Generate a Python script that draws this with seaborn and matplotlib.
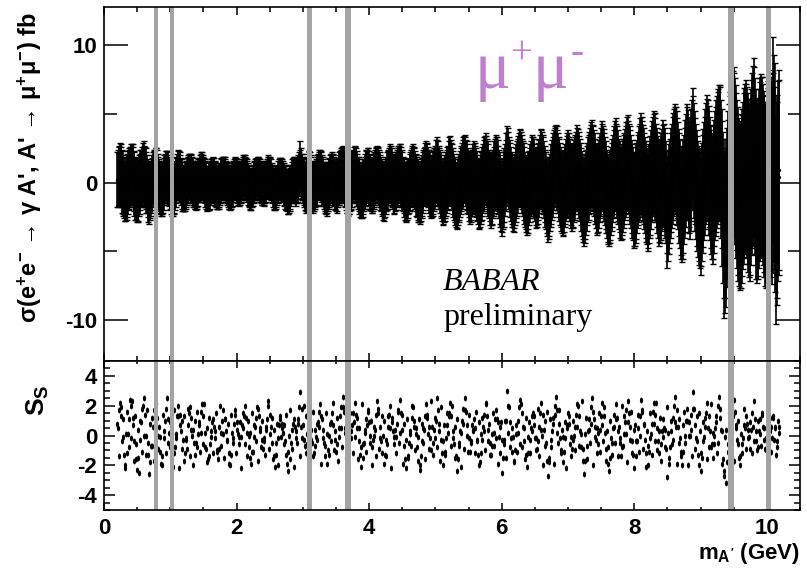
import matplotlib
matplotlib.use("Agg")
import matplotlib.pyplot as plt
import numpy as np
import pandas as pd
import seaborn as sns
from matplotlib.ticker import MultipleLocator

# ---------------------------------------------------------------------------
# Scan data: A' mass hypotheses (GeV), fitted cross section (fb) with its
# uncertainty, and the signal significance S_S at each mass point.
# ---------------------------------------------------------------------------
mass = [
    0.20, 0.22, 0.24, 0.26, 0.28, 0.30, 0.32, 0.34, 0.36, 0.38, 0.40, 0.42, 0.44, 0.46, 0.48, 0.50, 0.52, 0.54, 0.56, 0.58, 0.60, 0.62, 0.64, 0.66, 0.68,
    0.70, 0.72, 0.74, 0.76, 0.78, 0.80, 0.82, 0.84, 0.86, 0.88, 0.90, 0.92, 0.94, 0.96, 0.98, 1.00, 1.02, 1.04, 1.06, 1.08, 1.10, 1.12, 1.14, 1.16, 1.18,
    1.20, 1.22, 1.24, 1.26, 1.28, 1.30, 1.32, 1.34, 1.36, 1.38, 1.40, 1.42, 1.44, 1.46, 1.48, 1.50, 1.52, 1.54, 1.56, 1.58, 1.60, 1.62, 1.64, 1.66, 1.68,
    1.70, 1.72, 1.74, 1.76, 1.78, 1.80, 1.82, 1.84, 1.86, 1.88, 1.90, 1.92, 1.94, 1.96, 1.98, 2.00, 2.02, 2.04, 2.06, 2.08, 2.10, 2.12, 2.14, 2.16, 2.18,
    2.20, 2.22, 2.24, 2.26, 2.28, 2.30, 2.32, 2.34, 2.36, 2.38, 2.40, 2.42, 2.44, 2.46, 2.48, 2.50, 2.52, 2.54, 2.56, 2.58, 2.60, 2.62, 2.64, 2.66, 2.68,
    2.70, 2.72, 2.74, 2.76, 2.78, 2.80, 2.82, 2.84, 2.86, 2.88, 2.90, 2.92, 2.94, 2.96, 2.98, 3.00, 3.02, 3.04, 3.06, 3.08, 3.10, 3.12, 3.14, 3.16, 3.18,
    3.20, 3.22, 3.24, 3.26, 3.28, 3.30, 3.32, 3.34, 3.36, 3.38, 3.40, 3.42, 3.44, 3.46, 3.48, 3.50, 3.52, 3.54, 3.56, 3.58, 3.60, 3.62, 3.64, 3.66, 3.68,
    3.70, 3.72, 3.74, 3.76, 3.78, 3.80, 3.82, 3.84, 3.86, 3.88, 3.90, 3.92, 3.94, 3.96, 3.98, 4.00, 4.02, 4.04, 4.06, 4.08, 4.10, 4.12, 4.14, 4.16, 4.18,
    4.20, 4.22, 4.24, 4.26, 4.28, 4.30, 4.32, 4.34, 4.36, 4.38, 4.40, 4.42, 4.44, 4.46, 4.48, 4.50, 4.52, 4.54, 4.56, 4.58, 4.60, 4.62, 4.64, 4.66, 4.68,
    4.70, 4.72, 4.74, 4.76, 4.78, 4.80, 4.82, 4.84, 4.86, 4.88, 4.90, 4.92, 4.94, 4.96, 4.98, 5.00, 5.02, 5.04, 5.06, 5.08, 5.10, 5.12, 5.14, 5.16, 5.18,
    5.20, 5.22, 5.24, 5.26, 5.28, 5.30, 5.32, 5.34, 5.36, 5.38, 5.40, 5.42, 5.44, 5.46, 5.48, 5.50, 5.52, 5.54, 5.56, 5.58, 5.60, 5.62, 5.64, 5.66, 5.68,
    5.70, 5.72, 5.74, 5.76, 5.78, 5.80, 5.82, 5.84, 5.86, 5.88, 5.90, 5.92, 5.94, 5.96, 5.98, 6.00, 6.02, 6.04, 6.06, 6.08, 6.10, 6.12, 6.14, 6.16, 6.18,
    6.20, 6.22, 6.24, 6.26, 6.28, 6.30, 6.32, 6.34, 6.36, 6.38, 6.40, 6.42, 6.44, 6.46, 6.48, 6.50, 6.52, 6.54, 6.56, 6.58, 6.60, 6.62, 6.64, 6.66, 6.68,
    6.70, 6.72, 6.74, 6.76, 6.78, 6.80, 6.82, 6.84, 6.86, 6.88, 6.90, 6.92, 6.94, 6.96, 6.98, 7.00, 7.02, 7.04, 7.06, 7.08, 7.10, 7.12, 7.14, 7.16, 7.18,
    7.20, 7.22, 7.24, 7.26, 7.28, 7.30, 7.32, 7.34, 7.36, 7.38, 7.40, 7.42, 7.44, 7.46, 7.48, 7.50, 7.52, 7.54, 7.56, 7.58, 7.60, 7.62, 7.64, 7.66, 7.68,
    7.70, 7.72, 7.74, 7.76, 7.78, 7.80, 7.82, 7.84, 7.86, 7.88, 7.90, 7.92, 7.94, 7.96, 7.98, 8.00, 8.02, 8.04, 8.06, 8.08, 8.10, 8.12, 8.14, 8.16, 8.18,
    8.20, 8.22, 8.24, 8.26, 8.28, 8.30, 8.32, 8.34, 8.36, 8.38, 8.40, 8.42, 8.44, 8.46, 8.48, 8.50, 8.52, 8.54, 8.56, 8.58, 8.60, 8.62, 8.64, 8.66, 8.68,
    8.70, 8.72, 8.74, 8.76, 8.78, 8.80, 8.82, 8.84, 8.86, 8.88, 8.90, 8.92, 8.94, 8.96, 8.98, 9.00, 9.02, 9.04, 9.06, 9.08, 9.10, 9.12, 9.14, 9.16, 9.18,
    9.20, 9.22, 9.24, 9.26, 9.28, 9.30, 9.32, 9.34, 9.36, 9.38, 9.40, 9.42, 9.44, 9.46, 9.48, 9.50, 9.52, 9.54, 9.56, 9.58, 9.60, 9.62, 9.64, 9.66, 9.68,
    9.70, 9.72, 9.74, 9.76, 9.78, 9.80, 9.82, 9.84, 9.86, 9.88, 9.90, 9.92, 9.94, 9.96, 9.98, 10.00, 10.02, 10.04, 10.06, 10.08, 10.10, 10.12, 10.14, 10.16, 10.18,
]

xsec = [
    0.2, 0.5, 0.7, 0.4, 0.0, -0.4, -0.6, -0.4, 0.0, 0.3, 0.6, 0.7, 0.4, -0.1, -0.5, -0.7, -0.5, -0.1, 0.3, 0.5, 0.8, 0.4, 0.0, -0.4, -0.8,
    -0.5, -0.2, 0.2, 0.5, 0.6, 0.4, 0.0, -0.3, -0.6, -0.4, -0.1, 0.3, 0.5, 0.3, 0.1, -0.2, -0.5, -0.6, -0.4, 0.0, 0.4, 0.6, 0.4, 0.1, -0.3,
    -0.4, -0.3, -0.1, 0.2, 0.4, 0.5, 0.3, 0.1, -0.1, -0.3, -0.2, 0.0, 0.2, 0.4, 0.5, 0.3, 0.1, -0.2, -0.5, -0.4, -0.2, 0.1, 0.3, 0.2, -0.1,
    -0.3, -0.4, -0.2, 0.1, 0.3, 0.4, 0.3, 0.1, -0.1, -0.3, -0.5, -0.3, -0.1, 0.2, 0.4, 0.2, 0.0, -0.2, 0.0, 0.2, 0.4, 0.5, 0.3, 0.1, -0.2,
    -0.4, -0.5, -0.3, 0.0, 0.2, 0.3, 0.5, 0.3, 0.1, -0.1, -0.2, -0.1, 0.1, 0.3, 0.5, 0.4, 0.2, -0.1, -0.4, -0.5, -0.3, -0.1, 0.2, 0.3, 0.2,
    0.1, -0.2, -0.4, -0.6, -0.7, -0.5, -0.2, 0.1, 0.3, 0.2, -0.1, 0.2, 0.6, 1.3, 0.5, 0.2, -0.1, -0.4, -0.2, 0.1, 0.3, 0.1, -0.2, -0.4, -0.2,
    0.0, 0.2, 0.5, 0.6, 0.4, 0.1, -0.2, -0.4, -0.6, -0.3, 0.0, 0.3, 0.5, 0.2, -0.1, -0.3, -0.2, 0.2, 0.4, 0.6, 0.8, 0.5, 0.2, -0.2, -0.5,
    -0.4, -0.1, 0.2, 0.5, 0.8, 0.5, 0.2, -0.1, -0.5, -0.7, -0.5, -0.2, 0.1, 0.4, 0.6, 0.3, 0.0, -0.3, -0.1, 0.2, 0.5, 0.8, 0.5, 0.2, -0.1,
    -0.4, -0.7, -0.5, -0.1, 0.2, 0.5, 0.7, 0.4, 0.1, -0.2, 0.0, 0.3, 0.6, 0.8, 0.5, 0.1, -0.2, -0.6, -0.8, -0.5, -0.2, 0.1, 0.4, 0.7, 0.4,
    0.0, -0.3, -0.7, -0.9, -0.6, -0.2, 0.2, 0.5, 0.8, 0.6, 0.2, -0.1, -0.4, -0.2, 0.2, 0.5, 1.0, 0.7, 0.3, -0.1, -0.5, -0.8, -0.5, -0.1, 0.3,
    0.7, 1.0, 0.6, 0.1, -0.3, -0.7, -1.1, -0.7, -0.3, 0.1, 0.5, 0.8, 1.1, 0.7, 0.3, -0.1, -0.5, -0.2, 0.1, 0.5, 0.2, -0.2, -0.6, -0.9, -0.5,
    -0.2, 0.3, 0.7, 1.1, 0.7, 0.2, -0.3, -0.7, -0.4, 0.1, 0.6, 0.9, 0.5, -0.1, -0.6, -1.3, -0.8, -0.2, 0.5, 1.5, 1.0, 0.5, -0.1, -0.6, -0.9,
    -0.5, 0.1, 0.5, 1.0, 1.2, 0.8, 0.3, -0.2, -0.7, -1.1, -0.6, -0.2, 0.3, 0.7, 0.4, -0.1, -0.5, -0.2, 0.3, 0.8, 1.1, 0.7, 0.2, -0.4, -0.9,
    -1.5, -1.0, -0.4, 0.2, 0.7, 1.1, 1.4, 0.9, 0.4, -0.1, -0.6, -1.0, -0.6, -0.1, 0.4, 0.8, 0.4, -0.1, -0.5, -0.2, 0.3, 0.8, 1.2, 0.7, 0.2,
    -0.5, -1.0, -1.6, -1.0, -0.4, 0.2, 0.7, 1.1, 1.5, 1.0, 0.4, -0.2, -0.7, -0.4, 0.2, 0.8, 1.3, 0.8, 0.1, -0.5, -1.1, -1.4, -0.9, -0.3, 0.3,
    0.9, 1.4, 0.8, 0.2, -0.3, -0.9, -0.5, 0.1, 0.6, 1.1, 1.5, 1.0, 0.4, -0.3, -0.8, -1.4, -0.9, -0.3, 0.3, 0.8, 1.6, 1.0, 0.5, -0.2, -0.8,
    -1.5, -0.8, -0.2, 0.6, 1.2, 1.6, 1.0, 0.4, -0.3, -0.9, -0.5, 0.2, 0.8, 0.3, -0.7, -2.4, -1.4, -0.6, 0.2, 0.9, 1.5, 1.9, 1.3, 0.5, -0.4,
    -1.3, -1.8, -1.0, 0.0, 0.9, 1.6, 0.8, 0.0, 1.3, 2.9, 1.6, 0.6, -0.4, -1.2, -1.8, -2.5, -1.4, -0.4, 0.5, 1.4, 2.0, 1.2, 0.3, -0.7, -1.4,
    -0.5, 0.5, 1.2, 1.8, 2.2, 2.2, 0.3, -1.8, -3.9, -3.3, -1.8, -0.6, 0.4, 1.0, 1.8, 2.4, 1.6, 0.5, -0.6, -1.4, -1.7, -1.2, -0.2, 0.7, 1.3,
    0.8, -0.2, -0.9, 0.4, 1.6, 2.6, 1.2, -0.5, -0.6, 0.3, 1.1, 1.2, 0.6, -0.3, -1.0, -0.4, 0.5, 1.2, 0.6, -0.2, 3.1, 1.2, -2.8, -1.0, 0.9,
]

xsec_err = [
    2.0, 2.1, 2.2, 2.2, 2.3, 2.2, 2.2, 2.3, 2.3, 2.2, 2.2, 2.1, 2.2, 2.3, 2.2, 2.2, 2.3, 2.2, 2.1, 2.1, 2.2, 2.2, 2.2, 2.1, 2.2,
    2.1, 2.0, 2.0, 1.9, 1.9, 2.0, 1.9, 1.9, 1.8, 1.9, 1.9, 1.8, 1.8, 1.9, 1.8, 1.8, 1.9, 1.8, 1.8, 1.8, 1.7, 1.8, 1.8, 1.7, 1.8,
    1.7, 1.8, 1.7, 1.7, 1.7, 1.6, 1.7, 1.7, 1.7, 1.6, 1.7, 1.7, 1.6, 1.7, 1.7, 1.6, 1.6, 1.7, 1.6, 1.6, 1.7, 1.6, 1.6, 1.6, 1.6,
    1.6, 1.5, 1.6, 1.6, 1.5, 1.5, 1.6, 1.5, 1.5, 1.6, 1.5, 1.5, 1.6, 1.5, 1.5, 1.5, 1.6, 1.5, 1.5, 1.5, 1.6, 1.5, 1.5, 1.5, 1.5,
    1.5, 1.5, 1.4, 1.5, 1.5, 1.5, 1.4, 1.5, 1.5, 1.5, 1.4, 1.5, 1.5, 1.4, 1.5, 1.5, 1.5, 1.4, 1.5, 1.5, 1.5, 1.4, 1.5, 1.5, 1.5,
    1.5, 1.5, 1.6, 1.5, 1.6, 1.6, 1.5, 1.6, 1.6, 1.6, 1.6, 1.6, 1.6, 1.7, 1.6, 1.7, 1.7, 1.8, 1.9, 2.0, 2.0, 1.9, 1.8, 1.8, 1.7,
    1.7, 1.8, 1.7, 1.8, 1.8, 1.8, 1.7, 1.8, 1.8, 1.8, 1.8, 1.8, 1.7, 1.8, 1.8, 1.8, 1.9, 1.8, 1.9, 1.9, 1.9, 2.0, 2.0, 2.0, 1.9,
    1.9, 1.9, 2.0, 1.9, 1.9, 2.0, 1.9, 2.0, 2.0, 1.9, 2.0, 1.9, 2.0, 2.0, 1.9, 2.0, 2.0, 1.9, 2.0, 2.0, 2.0, 1.9, 2.0, 2.0, 2.0,
    2.0, 2.1, 2.0, 2.0, 2.1, 2.0, 2.1, 2.1, 2.0, 2.1, 2.0, 2.1, 2.1, 2.0, 2.1, 2.1, 2.0, 2.1, 2.1, 2.1, 2.0, 2.1, 2.1, 2.1, 2.1,
    2.1, 2.2, 2.2, 2.1, 2.2, 2.2, 2.2, 2.1, 2.2, 2.2, 2.2, 2.3, 2.2, 2.2, 2.3, 2.2, 2.3, 2.3, 2.2, 2.3, 2.3, 2.3, 2.3, 2.3, 2.3,
    2.3, 2.4, 2.3, 2.4, 2.4, 2.4, 2.3, 2.4, 2.4, 2.4, 2.4, 2.5, 2.4, 2.4, 2.5, 2.4, 2.5, 2.5, 2.4, 2.5, 2.5, 2.5, 2.4, 2.5, 2.5,
    2.5, 2.5, 2.6, 2.5, 2.5, 2.6, 2.5, 2.6, 2.6, 2.5, 2.6, 2.6, 2.6, 2.5, 2.6, 2.6, 2.6, 2.7, 2.6, 2.6, 2.7, 2.6, 2.7, 2.6, 2.7,
    2.6, 2.7, 2.7, 2.6, 2.7, 2.7, 2.7, 2.8, 2.7, 2.7, 2.8, 2.7, 2.7, 2.8, 2.8, 2.7, 2.8, 2.8, 2.8, 2.7, 2.8, 2.8, 2.8, 2.8, 2.8,
    2.8, 2.9, 2.8, 2.9, 2.9, 2.9, 2.8, 2.9, 2.9, 3.0, 2.9, 2.9, 3.0, 2.9, 3.0, 3.0, 2.9, 3.0, 3.0, 3.0, 3.0, 2.9, 3.0, 3.0, 3.0,
    3.0, 3.1, 3.0, 3.1, 3.1, 3.1, 3.0, 3.1, 3.1, 3.1, 3.2, 3.1, 3.1, 3.2, 3.1, 3.2, 3.2, 3.1, 3.2, 3.2, 3.2, 3.2, 3.3, 3.2, 3.2,
    3.2, 3.3, 3.3, 3.2, 3.3, 3.3, 3.3, 3.4, 3.3, 3.3, 3.4, 3.3, 3.4, 3.4, 3.4, 3.4, 3.5, 3.4, 3.4, 3.5, 3.5, 3.5, 3.5, 3.5, 3.5,
    3.5, 3.6, 3.6, 3.5, 3.6, 3.6, 3.7, 3.6, 3.7, 3.7, 3.7, 3.7, 3.8, 3.7, 3.7, 3.8, 3.8, 3.8, 3.8, 3.9, 3.9, 3.8, 3.9, 3.9, 4.0,
    4.0, 4.0, 4.1, 4.0, 4.1, 4.1, 4.0, 4.1, 4.1, 4.0, 4.2, 4.1, 4.2, 4.2, 4.2, 4.2, 4.3, 4.3, 4.3, 4.4, 4.4, 4.4, 4.5, 4.5, 4.5,
    4.6, 4.7, 4.8, 4.8, 4.9, 4.9, 5.1, 5.5, 6.0, 5.8, 5.8, 5.8, 5.9, 5.9, 6.0, 6.0, 6.0, 6.0, 6.1, 6.1, 6.0, 6.1, 6.1, 6.2, 6.2,
    6.2, 6.3, 6.3, 6.4, 6.4, 6.5, 6.4, 6.5, 6.4, 6.5, 6.5, 6.5, 6.6, 6.6, 6.7, 6.8, 6.9, 7.0, 7.1, 7.2, 7.5, 7.5, 7.5, 7.4, 7.3,
]

significance = [
    0.8, 1.7, 2.2, 1.3, -0.1, -1.3, -2.0, -1.2, 0.1, 1.1, 2.0, 2.3, 1.2, -0.4, -1.6, -2.3, -1.5, -0.3, 0.9, 1.8, 2.5, 1.4, 0.0, -1.3, -2.6,
    -1.8, -0.7, 0.6, 1.7, 2.1, 1.2, 0.0, -1.1, -1.9, -1.4, -0.2, 1.0, 1.8, 1.1, 0.2, -0.8, -1.6, -2.1, -1.2, 0.1, 1.3, 2.0, 1.4, 0.3, -0.9,
    -1.7, -1.2, -0.3, 0.7, 1.5, 1.9, 1.2, 0.4, -0.5, -1.3, -0.8, 0.1, 0.9, 1.6, 2.1, 1.3, 0.2, -0.9, -1.8, -1.4, -0.6, 0.3, 1.1, 0.6, -0.2,
    -1.1, -1.6, -0.9, 0.2, 1.0, 1.7, 1.1, 0.3, -0.4, -1.2, -2.0, -1.3, -0.2, 0.8, 1.4, 0.9, 0.1, -0.6, -0.1, 0.7, 1.5, 2.0, 1.2, 0.2, -0.8,
    -1.5, -1.9, -1.1, -0.1, 0.6, 1.2, 1.8, 1.3, 0.5, -0.3, -0.9, -0.4, 0.4, 1.1, 2.0, 1.4, 0.6, -0.5, -1.4, -2.1, -1.3, -0.2, 0.7, 1.3, 0.8,
    0.2, -0.6, -1.3, -1.9, -2.4, -1.6, -0.5, 0.4, 1.1, 0.6, -0.2, 0.8, 1.9, 2.9, 1.8, 0.7, -0.3, -1.2, -0.6, 0.3, 1.0, 0.4, -0.5, -1.4, -0.7,
    -0.1, 0.8, 1.6, 2.1, 1.3, 0.4, -0.5, -1.4, -1.9, -1.0, 0.0, 0.9, 1.5, 0.7, -0.3, -1.1, -0.6, 0.5, 1.3, 1.9, 2.6, 1.6, 0.5, -0.6, -1.5,
    -1.0, -0.2, 0.7, 1.5, 2.2, 1.4, 0.5, -0.4, -1.3, -2.1, -1.5, -0.5, 0.4, 1.1, 1.7, 0.9, 0.0, -0.8, -0.3, 0.6, 1.4, 2.3, 1.5, 0.6, -0.4,
    -1.2, -1.9, -1.3, -0.3, 0.6, 1.4, 2.0, 1.2, 0.3, -0.6, -0.1, 0.8, 1.6, 2.4, 1.5, 0.4, -0.7, -1.6, -2.2, -1.4, -0.5, 0.3, 1.2, 1.9, 1.0,
    0.1, -0.8, -1.7, -2.3, -1.4, -0.4, 0.5, 1.3, 2.1, 1.4, 0.6, -0.2, -1.0, -0.5, 0.4, 1.2, 2.5, 1.7, 0.8, -0.3, -1.2, -2.0, -1.3, -0.2, 0.7,
    1.5, 2.2, 1.3, 0.3, -0.6, -1.5, -2.4, -1.6, -0.7, 0.2, 1.0, 1.8, 2.5, 1.6, 0.7, -0.2, -1.1, -0.5, 0.3, 1.1, 0.5, -0.4, -1.3, -2.0, -1.2,
    -0.3, 0.6, 1.4, 2.1, 1.3, 0.4, -0.5, -1.3, -0.7, 0.2, 1.1, 1.7, 0.9, -0.1, -1.2, -2.5, -1.5, -0.3, 1.0, 3.0, 2.0, 0.9, -0.2, -1.1, -1.8,
    -1.0, 0.1, 1.0, 1.9, 2.4, 1.5, 0.6, -0.4, -1.3, -2.1, -1.2, -0.3, 0.5, 1.3, 0.7, -0.2, -1.0, -0.4, 0.6, 1.5, 2.2, 1.4, 0.4, -0.7, -1.7,
    -2.7, -1.8, -0.8, 0.3, 1.2, 2.0, 2.6, 1.7, 0.8, -0.2, -1.0, -1.8, -1.1, -0.2, 0.7, 1.5, 0.8, -0.1, -0.9, -0.3, 0.6, 1.4, 2.1, 1.3, 0.3,
    -0.8, -1.7, -2.6, -1.7, -0.7, 0.3, 1.1, 1.9, 2.5, 1.6, 0.6, -0.3, -1.2, -0.6, 0.4, 1.3, 2.2, 1.3, 0.2, -0.9, -1.9, -2.4, -1.5, -0.5, 0.5,
    1.4, 2.1, 1.2, 0.3, -0.5, -1.4, -0.8, 0.1, 0.9, 1.7, 2.3, 1.5, 0.6, -0.4, -1.3, -2.2, -1.4, -0.4, 0.5, 1.3, 2.4, 1.6, 0.7, -0.3, -1.2,
    -2.0, -1.1, -0.2, 0.8, 1.6, 2.2, 1.4, 0.5, -0.4, -1.2, -0.6, 0.3, 1.1, 0.4, -0.9, -2.8, -1.9, -0.8, 0.3, 1.2, 2.0, 2.6, 1.7, 0.6, -0.5,
    -1.4, -2.0, -1.1, 0.0, 1.0, 1.8, 0.9, 0.0, 1.4, 2.9, 1.8, 0.7, -0.4, -1.3, -2.0, -2.4, -1.5, -0.4, 0.6, 1.5, 2.2, 1.3, 0.3, -0.8, -1.5,
    -0.6, 0.5, 1.3, 2.0, 2.6, 1.8, 0.3, -1.6, -2.7, -3.2, -1.8, -0.6, 0.4, 1.0, 1.8, 2.4, 1.6, 0.5, -0.6, -1.5, -2.0, -1.2, -0.2, 0.7, 1.3,
    0.8, -0.2, -0.9, 0.4, 1.5, 2.3, 1.1, -0.4, -0.8, 0.3, 1.1, 1.4, 0.6, -0.3, -1.0, -0.4, 0.5, 1.2, 0.6, -0.2, 1.3, 0.5, -1.3, -0.4, 0.6,
]

# Scan points lying half a step between the ones above
mass_mid = [
    0.21, 0.23, 0.25, 0.27, 0.29, 0.31, 0.33, 0.35, 0.37, 0.39, 0.41, 0.43, 0.45, 0.47, 0.49, 0.51, 0.53, 0.55, 0.57, 0.59, 0.61, 0.63, 0.65, 0.67, 0.69,
    0.71, 0.73, 0.75, 0.77, 0.79, 0.81, 0.83, 0.85, 0.87, 0.89, 0.91, 0.93, 0.95, 0.97, 0.99, 1.01, 1.03, 1.05, 1.07, 1.09, 1.11, 1.13, 1.15, 1.17, 1.19,
    1.21, 1.23, 1.25, 1.27, 1.29, 1.31, 1.33, 1.35, 1.37, 1.39, 1.41, 1.43, 1.45, 1.47, 1.49, 1.51, 1.53, 1.55, 1.57, 1.59, 1.61, 1.63, 1.65, 1.67, 1.69,
    1.71, 1.73, 1.75, 1.77, 1.79, 1.81, 1.83, 1.85, 1.87, 1.89, 1.91, 1.93, 1.95, 1.97, 1.99, 2.01, 2.03, 2.05, 2.07, 2.09, 2.11, 2.13, 2.15, 2.17, 2.19,
    2.21, 2.23, 2.25, 2.27, 2.29, 2.31, 2.33, 2.35, 2.37, 2.39, 2.41, 2.43, 2.45, 2.47, 2.49, 2.51, 2.53, 2.55, 2.57, 2.59, 2.61, 2.63, 2.65, 2.67, 2.69,
    2.71, 2.73, 2.75, 2.77, 2.79, 2.81, 2.83, 2.85, 2.87, 2.89, 2.91, 2.93, 2.95, 2.97, 2.99, 3.01, 3.03, 3.05, 3.07, 3.09, 3.11, 3.13, 3.15, 3.17, 3.19,
    3.21, 3.23, 3.25, 3.27, 3.29, 3.31, 3.33, 3.35, 3.37, 3.39, 3.41, 3.43, 3.45, 3.47, 3.49, 3.51, 3.53, 3.55, 3.57, 3.59, 3.61, 3.63, 3.65, 3.67, 3.69,
    3.71, 3.73, 3.75, 3.77, 3.79, 3.81, 3.83, 3.85, 3.87, 3.89, 3.91, 3.93, 3.95, 3.97, 3.99, 4.01, 4.03, 4.05, 4.07, 4.09, 4.11, 4.13, 4.15, 4.17, 4.19,
    4.21, 4.23, 4.25, 4.27, 4.29, 4.31, 4.33, 4.35, 4.37, 4.39, 4.41, 4.43, 4.45, 4.47, 4.49, 4.51, 4.53, 4.55, 4.57, 4.59, 4.61, 4.63, 4.65, 4.67, 4.69,
    4.71, 4.73, 4.75, 4.77, 4.79, 4.81, 4.83, 4.85, 4.87, 4.89, 4.91, 4.93, 4.95, 4.97, 4.99, 5.01, 5.03, 5.05, 5.07, 5.09, 5.11, 5.13, 5.15, 5.17, 5.19,
    5.21, 5.23, 5.25, 5.27, 5.29, 5.31, 5.33, 5.35, 5.37, 5.39, 5.41, 5.43, 5.45, 5.47, 5.49, 5.51, 5.53, 5.55, 5.57, 5.59, 5.61, 5.63, 5.65, 5.67, 5.69,
    5.71, 5.73, 5.75, 5.77, 5.79, 5.81, 5.83, 5.85, 5.87, 5.89, 5.91, 5.93, 5.95, 5.97, 5.99, 6.01, 6.03, 6.05, 6.07, 6.09, 6.11, 6.13, 6.15, 6.17, 6.19,
    6.21, 6.23, 6.25, 6.27, 6.29, 6.31, 6.33, 6.35, 6.37, 6.39, 6.41, 6.43, 6.45, 6.47, 6.49, 6.51, 6.53, 6.55, 6.57, 6.59, 6.61, 6.63, 6.65, 6.67, 6.69,
    6.71, 6.73, 6.75, 6.77, 6.79, 6.81, 6.83, 6.85, 6.87, 6.89, 6.91, 6.93, 6.95, 6.97, 6.99, 7.01, 7.03, 7.05, 7.07, 7.09, 7.11, 7.13, 7.15, 7.17, 7.19,
    7.21, 7.23, 7.25, 7.27, 7.29, 7.31, 7.33, 7.35, 7.37, 7.39, 7.41, 7.43, 7.45, 7.47, 7.49, 7.51, 7.53, 7.55, 7.57, 7.59, 7.61, 7.63, 7.65, 7.67, 7.69,
    7.71, 7.73, 7.75, 7.77, 7.79, 7.81, 7.83, 7.85, 7.87, 7.89, 7.91, 7.93, 7.95, 7.97, 7.99, 8.01, 8.03, 8.05, 8.07, 8.09, 8.11, 8.13, 8.15, 8.17, 8.19,
    8.21, 8.23, 8.25, 8.27, 8.29, 8.31, 8.33, 8.35, 8.37, 8.39, 8.41, 8.43, 8.45, 8.47, 8.49, 8.51, 8.53, 8.55, 8.57, 8.59, 8.61, 8.63, 8.65, 8.67, 8.69,
    8.71, 8.73, 8.75, 8.77, 8.79, 8.81, 8.83, 8.85, 8.87, 8.89, 8.91, 8.93, 8.95, 8.97, 8.99, 9.01, 9.03, 9.05, 9.07, 9.09, 9.11, 9.13, 9.15, 9.17, 9.19,
    9.21, 9.23, 9.25, 9.27, 9.29, 9.31, 9.33, 9.35, 9.37, 9.39, 9.41, 9.43, 9.45, 9.47, 9.49, 9.51, 9.53, 9.55, 9.57, 9.59, 9.61, 9.63, 9.65, 9.67, 9.69,
    9.71, 9.73, 9.75, 9.77, 9.79, 9.81, 9.83, 9.85, 9.87, 9.89, 9.91, 9.93, 9.95, 9.97, 9.99, 10.01, 10.03, 10.05, 10.07, 10.09, 10.11, 10.13, 10.15, 10.17, 10.19,
]

xsec_mid = [
    0.3, 0.5, 0.6, 0.1, -0.2, -0.6, -0.4, -0.2, 0.2, 0.4, 0.5, 0.6, 0.1, -0.4, -0.5, -0.6, -0.2, 0.2, 0.3, 0.7, 0.5, 0.3, -0.1, -0.7, -0.6,
    -0.4, 0.0, 0.4, 0.5, 0.5, 0.2, -0.2, -0.5, -0.5, -0.3, 0.2, 0.5, 0.4, 0.2, -0.1, -0.4, -0.5, -0.5, -0.2, 0.2, 0.5, 0.5, 0.3, -0.1, -0.4,
    -0.4, -0.2, 0.1, 0.3, 0.5, 0.4, 0.2, -0.1, -0.3, -0.3, -0.1, 0.2, 0.3, 0.5, 0.4, 0.2, -0.1, -0.4, -0.4, -0.3, 0.0, 0.2, 0.2, 0.0, -0.2,
    -0.4, -0.3, -0.1, 0.2, 0.4, 0.3, 0.2, 0.0, -0.2, -0.4, -0.4, -0.2, 0.1, 0.3, 0.3, 0.1, -0.1, -0.1, 0.1, 0.3, 0.5, 0.4, 0.2, -0.1, -0.3,
    -0.5, -0.4, -0.2, 0.1, 0.2, 0.4, 0.4, 0.2, 0.0, -0.2, -0.2, 0.0, 0.2, 0.4, 0.4, 0.3, 0.0, -0.3, -0.5, -0.4, -0.2, 0.1, 0.3, 0.3, 0.1,
    -0.1, -0.3, -0.5, -0.7, -0.6, -0.3, 0.0, 0.2, 0.3, 0.1, 0.1, 0.4, 0.7, 0.9, 0.4, 0.1, -0.2, -0.3, 0.0, 0.2, 0.2, 0.0, -0.3, -0.3, -0.1,
    0.1, 0.4, 0.6, 0.5, 0.2, 0.0, -0.3, -0.5, -0.4, -0.1, 0.2, 0.4, 0.3, 0.1, -0.2, -0.3, 0.0, 0.3, 0.5, 0.7, 0.6, 0.3, 0.0, -0.3, -0.4,
    -0.2, 0.1, 0.4, 0.7, 0.6, 0.3, 0.0, -0.3, -0.6, -0.6, -0.3, 0.0, 0.3, 0.5, 0.5, 0.1, -0.2, -0.2, 0.1, 0.4, 0.7, 0.6, 0.4, 0.0, -0.3,
    -0.6, -0.6, -0.3, 0.1, 0.4, 0.6, 0.6, 0.2, -0.1, -0.1, 0.1, 0.4, 0.7, 0.7, 0.3, -0.1, -0.4, -0.7, -0.6, -0.3, 0.0, 0.3, 0.6, 0.5, 0.2,
    -0.2, -0.5, -0.8, -0.7, -0.4, 0.0, 0.4, 0.7, 0.7, 0.4, 0.1, -0.2, -0.3, 0.0, 0.3, 0.8, 0.8, 0.5, 0.1, -0.3, -0.7, -0.6, -0.3, 0.1, 0.4,
    0.9, 0.8, 0.4, -0.1, -0.5, -0.9, -0.9, -0.5, -0.1, 0.3, 0.6, 1.0, 0.9, 0.5, 0.1, -0.3, -0.4, 0.0, 0.3, 0.4, 0.0, -0.4, -0.8, -0.7, -0.3,
    0.1, 0.5, 0.9, 0.9, 0.4, -0.1, -0.5, -0.5, -0.1, 0.4, 0.7, 0.7, 0.2, -0.4, -0.9, -1.0, -0.5, 0.2, 1.0, 1.3, 0.7, 0.2, -0.4, -0.8, -0.7,
    -0.2, 0.3, 0.8, 1.1, 1.0, 0.5, 0.1, -0.5, -0.9, -0.9, -0.4, 0.1, 0.5, 0.5, 0.1, -0.3, -0.4, 0.1, 0.5, 1.0, 0.9, 0.5, -0.1, -0.6, -1.1,
    -1.2, -0.7, -0.1, 0.4, 0.9, 1.3, 1.2, 0.7, 0.2, -0.3, -0.8, -0.8, -0.3, 0.2, 0.6, 0.7, 0.2, -0.3, -0.3, 0.1, 0.6, 1.0, 0.9, 0.4, -0.1,
    -0.8, -1.3, -1.3, -0.7, -0.1, 0.4, 0.9, 1.3, 1.2, 0.7, 0.1, -0.5, -0.5, -0.1, 0.5, 1.1, 1.0, 0.4, -0.2, -0.8, -1.3, -1.1, -0.6, 0.0, 0.6,
    1.2, 1.1, 0.5, -0.1, -0.7, -0.8, -0.2, 0.3, 0.8, 1.4, 1.2, 0.7, 0.1, -0.6, -1.2, -1.2, -0.6, 0.1, 0.6, 1.2, 1.3, 0.7, 0.1, -0.5, -1.0,
    -1.2, -0.5, 0.2, 0.9, 1.4, 1.4, 0.7, 0.0, -0.6, -0.7, -0.1, 0.5, 0.6, -0.2, -1.4, -1.9, -1.0, -0.2, 0.5, 1.2, 1.7, 1.6, 0.8, 0.0, -0.8,
    -1.6, -1.5, -0.5, 0.5, 1.4, 1.3, 0.4, 0.6, 2.0, 2.2, 1.1, 0.1, -0.8, -1.5, -2.0, -1.8, -0.8, 0.1, 1.0, 1.7, 1.6, 0.7, -0.3, -1.1, -1.0,
    0.0, 0.8, 1.5, 2.0, 2.1, 1.0, -0.8, -2.6, -3.6, -2.6, -1.2, -0.1, 0.7, 1.4, 2.1, 2.0, 1.1, -0.1, -1.1, -1.8, -1.6, -0.7, 0.3, 1.0, 1.0,
    0.3, -0.6, -0.3, 1.1, 2.0, 1.9, 0.4, -0.8, -0.3, 0.8, 1.4, 1.1, 0.1, -0.8, -0.8, 0.1, 1.0, 1.0, 0.2, 0.7, 1.8, -0.5, -1.5, 0.1, 0.4,
]

xsec_err_mid = [
    2.1, 2.2, 2.2, 2.3, 2.2, 2.2, 2.3, 2.3, 2.2, 2.2, 2.1, 2.2, 2.2, 2.3, 2.2, 2.3, 2.2, 2.2, 2.1, 2.2, 2.2, 2.2, 2.1, 2.2, 2.1,
    2.0, 2.0, 1.9, 1.9, 2.0, 1.9, 1.9, 1.8, 1.9, 1.9, 1.8, 1.8, 1.9, 1.8, 1.8, 1.9, 1.8, 1.8, 1.8, 1.7, 1.8, 1.8, 1.7, 1.8, 1.7,
    1.7, 1.7, 1.7, 1.7, 1.6, 1.7, 1.7, 1.7, 1.6, 1.7, 1.7, 1.6, 1.7, 1.7, 1.6, 1.6, 1.7, 1.6, 1.6, 1.7, 1.6, 1.6, 1.6, 1.6, 1.6,
    1.5, 1.6, 1.5, 1.6, 1.5, 1.6, 1.5, 1.5, 1.6, 1.5, 1.5, 1.6, 1.5, 1.5, 1.5, 1.6, 1.5, 1.5, 1.5, 1.6, 1.5, 1.5, 1.5, 1.5, 1.5,
    1.5, 1.4, 1.5, 1.5, 1.5, 1.4, 1.5, 1.5, 1.5, 1.4, 1.5, 1.5, 1.4, 1.5, 1.5, 1.5, 1.4, 1.5, 1.5, 1.5, 1.4, 1.5, 1.5, 1.5, 1.5,
    1.5, 1.6, 1.5, 1.6, 1.6, 1.6, 1.5, 1.6, 1.6, 1.6, 1.6, 1.6, 1.7, 1.6, 1.7, 1.7, 1.8, 1.8, 1.9, 2.0, 2.0, 1.9, 1.8, 1.8, 1.7,
    1.8, 1.7, 1.8, 1.8, 1.8, 1.7, 1.8, 1.8, 1.8, 1.8, 1.8, 1.7, 1.8, 1.8, 1.8, 1.9, 1.8, 1.9, 1.9, 1.9, 2.0, 2.0, 2.0, 1.9, 1.9,
    1.9, 2.0, 1.9, 1.9, 2.0, 2.0, 1.9, 2.0, 1.9, 2.0, 2.0, 1.9, 2.0, 1.9, 2.0, 2.0, 1.9, 2.0, 2.0, 2.0, 1.9, 2.0, 2.0, 2.0, 2.0,
    2.1, 2.0, 2.0, 2.1, 2.0, 2.1, 2.1, 2.0, 2.1, 2.0, 2.1, 2.1, 2.0, 2.1, 2.1, 2.0, 2.1, 2.1, 2.1, 2.0, 2.1, 2.1, 2.1, 2.1, 2.1,
    2.2, 2.2, 2.1, 2.2, 2.2, 2.2, 2.1, 2.2, 2.2, 2.2, 2.3, 2.2, 2.2, 2.3, 2.2, 2.3, 2.3, 2.2, 2.3, 2.3, 2.3, 2.3, 2.3, 2.3, 2.3,
    2.4, 2.3, 2.4, 2.4, 2.4, 2.3, 2.4, 2.4, 2.4, 2.4, 2.5, 2.4, 2.4, 2.5, 2.4, 2.5, 2.5, 2.4, 2.5, 2.5, 2.5, 2.4, 2.5, 2.5, 2.5,
    2.5, 2.6, 2.5, 2.5, 2.6, 2.5, 2.6, 2.6, 2.5, 2.6, 2.6, 2.6, 2.5, 2.6, 2.6, 2.6, 2.7, 2.6, 2.6, 2.7, 2.6, 2.7, 2.6, 2.7, 2.6,
    2.7, 2.7, 2.6, 2.7, 2.7, 2.7, 2.8, 2.7, 2.7, 2.8, 2.7, 2.7, 2.8, 2.8, 2.7, 2.8, 2.8, 2.8, 2.7, 2.8, 2.8, 2.8, 2.8, 2.8, 2.8,
    2.9, 2.8, 2.9, 2.9, 2.9, 2.8, 2.9, 2.9, 3.0, 2.9, 2.9, 3.0, 2.9, 3.0, 3.0, 2.9, 3.0, 3.0, 3.0, 3.0, 2.9, 3.0, 3.0, 3.0, 3.0,
    3.1, 3.0, 3.1, 3.1, 3.0, 3.1, 3.1, 3.1, 3.0, 3.1, 3.1, 3.2, 3.1, 3.2, 3.1, 3.2, 3.1, 3.2, 3.2, 3.2, 3.2, 3.3, 3.2, 3.2, 3.2,
    3.3, 3.2, 3.3, 3.3, 3.3, 3.3, 3.4, 3.3, 3.3, 3.4, 3.3, 3.4, 3.4, 3.4, 3.4, 3.4, 3.5, 3.4, 3.5, 3.5, 3.5, 3.5, 3.5, 3.5, 3.5,
    3.6, 3.5, 3.6, 3.6, 3.6, 3.7, 3.6, 3.7, 3.7, 3.7, 3.7, 3.7, 3.7, 3.8, 3.7, 3.8, 3.8, 3.8, 3.8, 3.9, 3.8, 3.9, 3.9, 3.9, 4.0,
    4.0, 4.1, 4.0, 4.1, 4.1, 4.0, 4.1, 4.1, 4.0, 4.1, 4.1, 4.2, 4.2, 4.2, 4.2, 4.3, 4.3, 4.3, 4.4, 4.4, 4.4, 4.5, 4.5, 4.5, 4.6,
    4.6, 4.7, 4.8, 4.8, 4.9, 5.0, 5.3, 5.8, 5.9, 5.8, 5.8, 5.8, 5.9, 5.9, 6.0, 6.0, 6.0, 6.1, 6.1, 6.0, 6.1, 6.1, 6.2, 6.2, 6.2,
    6.2, 6.3, 6.4, 6.4, 6.5, 6.5, 6.4, 6.5, 6.5, 6.5, 6.5, 6.6, 6.6, 6.7, 6.7, 6.8, 6.9, 7.0, 7.1, 7.3, 7.5, 7.5, 7.4, 7.3, 7.1,
]

significance_mid = [
    0.5, -1.4, 1.9, -0.4, 1.1, -2.2, 0.1, 1.6, -0.8, 2.4, -0.2, 0.7, -1.7, 1.3, -0.6, 0.4, -2.5, 1.0, -1.1, 2.0, 0.0, -1.3, 1.7, -0.5, 0.8,
    -0.7, 1.2, -1.7, 0.2, 2.2, -0.9, 0.6, -0.1, -2.0, 1.4, 0.3, -1.2, 2.5, -0.5, 0.9, -1.5, 0.1, 1.7, -0.8, -0.2, 1.3, -2.2, 0.7, 1.0, -0.3,
    1.3, -0.2, -0.9, 1.8, -1.4, 0.4, 0.0, -2.0, 1.0, -0.5, 1.6, 0.7, -1.1, 0.2, -0.6, 2.1, -0.8, 0.5, -1.6, 1.2, -0.1, 0.9, -1.2, 0.3, 1.5,
    -1.0, 0.6, 2.0, -0.7, 0.1, -1.5, 1.1, -0.3, 0.8, -1.9, 1.4, 0.2, -0.5, 1.7, -1.2, 0.4, -0.1, 0.9, -2.2, 0.5, 1.3, -0.6, -1.4, 1.0, 0.0,
    0.2, 1.5, -1.1, 0.7, -0.4, 1.9, -1.7, 0.3, -0.8, 1.0, -0.2, -1.3, 0.6, 2.3, -0.9, 0.1, 1.2, -1.6, 0.4, -0.5, 0.8, -2.0, 1.1, -0.1, 0.5,
    0.7, -0.4, 1.4, -1.1, 0.0, 1.7, -0.9, 0.8, -2.1, 0.3, -0.5, 1.1, -1.4, 0.6, -0.2, 2.0, -0.7, 1.3, 0.1, -1.8, 0.9, -0.3, 1.6, -1.2, 0.4,
    -0.3, 0.9, 0.6, -1.9, 1.1, -0.2, -0.7, 1.5, 0.1, -1.3, 0.8, -0.4, 2.2, -1.0, 0.3, 1.2, -1.7, -0.1, 0.5, -0.8, 1.9, 0.2, -1.5, 1.0, -0.6,
    1.5, 0.3, -1.2, 0.9, -0.1, 1.2, -1.6, 0.5, -0.8, 2.1, -0.6, 0.2, -1.1, 0.7, 1.6, -0.5, 1.0, -2.0, 0.0, 0.4, -1.4, 1.8, -0.9, -0.2, 1.3,
    0.0, 1.0, -1.4, -0.6, 1.3, 0.5, -2.2, 0.9, -0.1, 0.4, -1.2, 1.7, -0.5, 0.2, 1.4, -1.9, 0.8, -0.3, 1.1, -1.5, 0.1, -0.7, 2.0, 0.6, -1.0,
    0.5, -0.1, 1.1, -2.0, 0.8, -0.5, 0.4, -1.6, 1.2, 0.1, -0.9, 2.3, 0.6, -1.3, -0.2, 1.0, -0.8, 0.3, -1.7, 1.9, -0.4, 0.7, -1.1, 1.5, 0.2,
    1.3, -0.7, 2.0, -0.2, 0.6, -1.4, 1.1, -0.5, 0.3, -2.1, 0.8, -0.9, 1.7, 0.0, -1.1, 1.4, -0.4, 0.7, 0.4, -1.2, 1.6, -0.3, 0.9, -1.8, 0.1,
    1.2, 0.3, -1.0, 2.2, -0.4, 0.8, -1.3, 0.1, 1.5, -0.7, -0.2, 1.1, -1.9, 0.6, 0.9, -0.3, -0.6, 1.0, -1.5, 0.2, 1.9, -0.8, 0.5, -0.1, -1.7,
    0.7, -1.1, 0.2, -0.6, 2.1, -0.8, 0.5, -1.6, 1.2, -0.1, 0.9, -1.2, 0.3, 1.5, 1.3, -0.2, -0.9, 1.8, -1.4, 0.4, 0.0, -2.0, 1.0, -0.5, 1.6,
    -1.5, 1.1, -0.3, 0.8, -1.9, 1.4, 0.2, -0.5, 1.7, -1.2, 0.4, -0.1, 0.9, -2.2, 0.5, 1.3, -0.6, -1.4, 1.0, 0.0, -1.0, 0.6, 2.0, -0.7, 0.1,
    2.3, -0.9, 0.1, 1.2, -1.6, 0.4, -0.5, 0.8, -2.0, 1.1, -0.1, 0.5, 0.2, 1.5, -1.1, 0.7, -0.4, 1.9, -1.7, 0.3, -0.8, 1.0, -0.2, -1.3, 0.6,
    -0.5, 1.1, -1.4, 0.6, -0.2, 2.0, -0.7, 1.3, 0.1, -1.8, 0.9, -0.3, 1.6, -1.2, 0.4, 0.7, -0.4, 1.4, -1.1, 0.0, 1.7, -0.9, 0.8, -2.1, 0.3,
    -0.7, 1.5, 0.1, -1.3, 0.8, -0.4, 2.2, -1.0, 0.3, 1.2, -1.7, -0.1, 0.5, -0.8, 1.9, 0.2, -1.5, 1.0, -0.6, -0.3, 0.9, 0.6, -1.9, 1.1, -0.2,
    -1.1, 0.7, 1.6, -0.5, 1.0, -2.0, 0.0, 0.4, -1.4, 1.8, -0.9, -0.2, 1.3, 1.5, 0.3, -1.2, 0.9, -0.1, 1.2, -1.6, 0.5, -0.8, 2.1, -0.6, 0.2,
    0.0, 0.9, -1.2, -0.5, 1.2, 0.4, -1.9, -2.4, -0.1, 0.4, -1.1, 1.5, -0.5, 0.2, 1.3, -1.7, 0.7, -0.3, 1.0, -1.4, 0.1, -0.6, 1.8, 0.5, -0.9,
    0.4, -0.1, 0.9, -1.2, 0.6, -0.4, 0.3, -1.0, 1.0, 0.1, -0.7, 1.5, 0.5, -0.9, -0.2, 0.8, -0.6, 0.3, -1.1, 1.2, -0.3, 0.6, -0.8, 1.0, 0.2,
]

# Mass windows vetoed around the known resonances (omega, phi, J/psi,
# psi(2S), Upsilon(1S), Upsilon(2S)), in GeV
veto_regions = [
    (0.76, 0.81), (0.99, 1.05), (3.06, 3.14),
    (3.64, 3.72), (9.42, 9.51), (9.99, 10.06),
]

scan = pd.concat([
    pd.DataFrame({"mass": mass, "xsec": xsec, "xsec_err": xsec_err,
                  "significance": significance}),
    pd.DataFrame({"mass": mass_mid, "xsec": xsec_mid,
                  "xsec_err": xsec_err_mid,
                  "significance": significance_mid}),
]).sort_values("mass").reset_index(drop=True)

# ---------------------------------------------------------------------------
# Style
# ---------------------------------------------------------------------------
sns.set_theme(style="ticks")
plt.rcParams["font.family"] = ["Liberation Sans", "DejaVu Sans"]
plt.rcParams["font.weight"] = "bold"
plt.rcParams["mathtext.fontset"] = "custom"
plt.rcParams["mathtext.rm"] = "Liberation Sans:bold"
plt.rcParams["mathtext.it"] = "Liberation Sans:bold"
plt.rcParams["mathtext.bf"] = "Liberation Sans:bold"
plt.rcParams["axes.unicode_minus"] = False
plt.rcParams["axes.linewidth"] = 1.2
plt.rcParams["axes.edgecolor"] = "black"

W, H = 807, 570
fig = plt.figure(figsize=(W / 100, H / 100), dpi=100)
fig.patch.set_facecolor("white")

left, right = 104, 800
ax_top = fig.add_axes([left / W, 1 - 361 / H, (right - left) / W, 354 / H])
ax_bot = fig.add_axes([left / W, 1 - 510 / H, (right - left) / W, 149 / H],
                      sharex=ax_top)

band_color = "#a4a4a4"
ink = "black"

# Slightly tall dot, like a point with a tiny vertical error bar
theta = np.linspace(0, 2 * np.pi, 24, endpoint=False)
tall_dot = list(zip(0.55 * np.cos(theta), np.sin(theta)))

# --- upper panel: cross section with error bars ----------------------------
ax_top.errorbar(scan["mass"], scan["xsec"], yerr=scan["xsec_err"],
                fmt="none", ecolor=ink, elinewidth=1.2, capsize=2.0,
                capthick=1.0, zorder=2)
sns.scatterplot(data=scan, x="mass", y="xsec", ax=ax_top, color=ink,
                s=6, linewidth=0, zorder=3, legend=False)

# --- lower panel: signal significance --------------------------------------
sns.scatterplot(data=scan, x="mass", y="significance", ax=ax_bot, color=ink,
                marker=tall_dot, s=18, linewidth=0, zorder=3, legend=False)

for ax in (ax_top, ax_bot):
    for lo, hi in veto_regions:
        ax.axvspan(lo, hi, color=band_color, lw=0, zorder=5)
    ax.set_facecolor("white")
    for sp in ax.spines.values():
        sp.set_visible(True)
        sp.set_linewidth(1.2)
        sp.set_color(ink)
        sp.set_zorder(6)
    ax.set_xlabel("")
    ax.set_ylabel("")

ax_top.set_xlim(0, 10.5)
ax_top.set_ylim(-13.0, 12.8)
ax_bot.set_ylim(-5.0, 5.0)

ax_top.xaxis.set_major_locator(MultipleLocator(2))
ax_top.xaxis.set_minor_locator(MultipleLocator(0.5))
ax_top.yaxis.set_major_locator(MultipleLocator(10))
ax_top.yaxis.set_minor_locator(MultipleLocator(5))
ax_bot.yaxis.set_major_locator(MultipleLocator(2))
ax_bot.yaxis.set_minor_locator(MultipleLocator(0.5))

tick_font = 16
for ax in (ax_top, ax_bot):
    ax.tick_params(which="both", direction="in", top=True, right=True,
                   colors=ink, width=1.1, labelsize=tick_font)
ax_top.tick_params(axis="y", which="major", length=17, pad=5)
ax_top.tick_params(axis="y", which="minor", length=9)
ax_top.tick_params(axis="x", which="major", length=6, labelbottom=False)
ax_top.tick_params(axis="x", which="minor", length=3.5)
ax_bot.tick_params(axis="y", which="major", length=8, pad=5)
ax_bot.tick_params(axis="y", which="minor", length=4.5)
ax_bot.tick_params(axis="x", which="major", length=5, pad=6)
ax_bot.tick_params(axis="x", which="minor", length=2.5)

for lab in ax_top.get_yticklabels() + ax_bot.get_yticklabels() + ax_bot.get_xticklabels():
    lab.set_fontweight("bold")

# --- axis titles ------------------------------------------------------------
fig.text(30 / W, 1 - 168 / H,
         "σ(e$^{+}$e$^{-}$ → γ A', A' → μ$^{+}$μ$^{-}$) fb",
         rotation=90, ha="center", va="center", fontsize=17,
         fontweight="bold", color=ink)
fig.text(38 / W, 1 - 400 / H, r"$S_{S}$", rotation=90, ha="center",
         va="center", fontsize=19, fontweight="bold", color=ink)
fig.text(800 / W, 1 - 553 / H, r"$m_{A'}$ (GeV)", ha="right", va="center",
         fontsize=16, fontweight="bold", color=ink)

# --- annotations ------------------------------------------------------------
mu_color = "#bf7fcf"
serif = ["Liberation Serif", "DejaVu Serif"]
fig.text(475 / W, 1 - 88 / H, "μ", family=serif, fontweight="normal",
         fontsize=48, color=mu_color, ha="left", va="baseline")
fig.text(510 / W, 1 - 63 / H, "+", family=serif, fontweight="normal",
         fontsize=28, color=mu_color, ha="left", va="baseline")
fig.text(533 / W, 1 - 88 / H, "μ", family=serif, fontweight="normal",
         fontsize=48, color=mu_color, ha="left", va="baseline")
fig.text(570 / W, 1 - 63 / H, "-", family=serif, fontweight="normal",
         fontsize=28, color=mu_color, ha="left", va="baseline")

fig.text(443 / W, 1 - 290 / H, "BABAR", family=serif,
         style="italic", fontweight="normal", fontsize=23, color=ink,
         ha="left", va="baseline")
fig.text(443 / W, 1 - 325 / H, "preliminary", family=serif,
         fontweight="normal", fontsize=23, color=ink,
         ha="left", va="baseline")

fig.savefig("out.png", dpi=100, facecolor="white")
